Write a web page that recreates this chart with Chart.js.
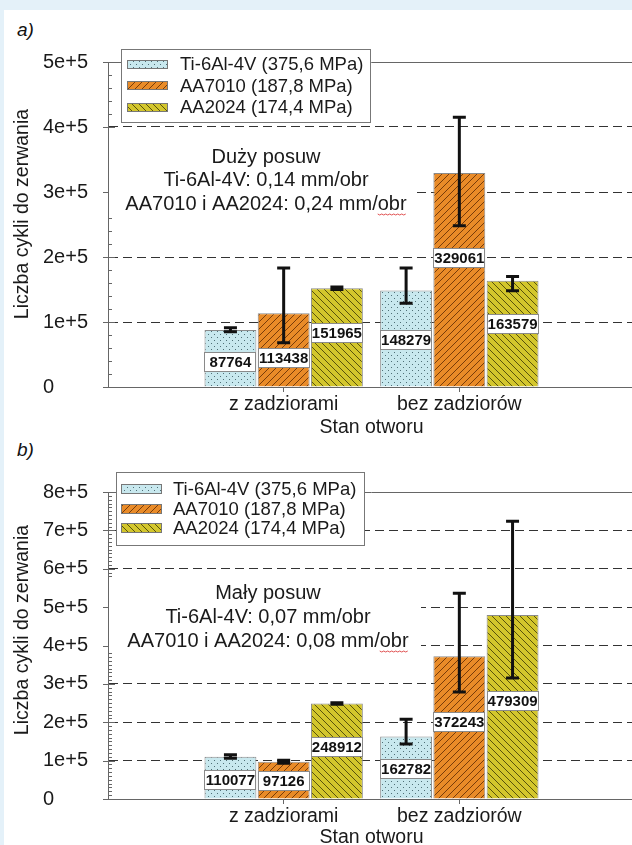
<!DOCTYPE html>
<html>
<head>
<meta charset="utf-8">
<script src="https://cdn.jsdelivr.net/npm/chart.js@4.4.0/dist/chart.umd.min.js"></script>
<style>
  html, body { margin: 0; padding: 0; }
  body { width: 632px; height: 845px; overflow: hidden; position: relative; background: #e4f1f9; font-family: "Liberation Sans", Arial, sans-serif; }
  #panel { position: absolute; left: 4px; top: 10px; right: 0; bottom: 0; background: #fff; }
  .wrap { position: absolute; left: 0; width: 636px; }
  #wa { top: 0; height: 445px; }
  #wb { top: 432px; height: 413px; }
  .tag { position: absolute; left: 17px; font-style: italic; font-size: 19px; color: #111; line-height: 20px; }
</style>
</head>
<body>
<div id="panel"></div>
<div class="tag" style="top:20px">a)</div>
<div class="tag" style="top:440px">b)</div>
<div class="wrap" id="wa"><canvas id="chartA" width="636" height="445"></canvas></div>
<div class="wrap" id="wb"><canvas id="chartB" width="636" height="413"></canvas></div>

<script>
// dane
const categories = ['z zadziorami', 'bez zadziorów'];
const seriesNames = ['Ti-6Al-4V (375,6 MPa)', 'AA7010 (187,8 MPa)', 'AA2024 (174,4 MPa)'];

// a) duzy posuw
const tiA = [87764, 148279];
const aa7010A = [113438, 329061];
const aa2024A = [151965, 163579];
const tiErrA = [[85000, 91000], [129000, 183000]];
const aa7010ErrA = [[68000, 183000], [248000, 415000]];
const aa2024ErrA = [[150000, 154000], [148000, 170000]];
const yTicksA = ['0', '1e+5', '2e+5', '3e+5', '4e+5', '5e+5'];
const noteA = ['Duży posuw', 'Ti-6Al-4V: 0,14 mm/obr', 'AA7010 i AA2024: 0,24 mm/obr'];

// b) maly posuw
const tiB = [110077, 162782];
const aa7010B = [97126, 372243];
const aa2024B = [248912, 479309];
const tiErrB = [[106000, 115000], [143000, 208000]];
const aa7010ErrB = [[93000, 101000], [279000, 536000]];
const aa2024ErrB = [[247000, 251000], [315000, 724000]];
const yTicksB = ['0', '1e+5', '2e+5', '3e+5', '4e+5', '5e+5', '6e+5', '7e+5', '8e+5'];
const noteB = ['Mały posuw', 'Ti-6Al-4V: 0,07 mm/obr', 'AA7010 i AA2024: 0,08 mm/obr'];

const yTitle = 'Liczba cykli do zerwania';
const xTitle = 'Stan otworu';

const FONT = '"Liberation Sans", Arial, sans-serif';

// wzory wypelnienia
function makePattern(kind) {
  const c = document.createElement('canvas');
  const s = kind === 'dots' ? 6 : 7;
  c.width = s; c.height = s;
  const g = c.getContext('2d');
  if (kind === 'dots') {
    g.fillStyle = '#c8e8ee'; g.fillRect(0, 0, s, s);
    g.fillStyle = '#4f6f76';
    g.fillRect(1, 1, 1, 1);
    g.fillRect(4, 4, 1, 1);
  } else {
    g.fillStyle = kind === 'fwd' ? '#e98b28' : '#d3c62c';
    g.fillRect(0, 0, s, s);
    g.strokeStyle = kind === 'fwd' ? '#6b3306' : '#4a4508';
    g.lineWidth = 0.9;
    g.beginPath();
    if (kind === 'fwd') {
      g.moveTo(0, s); g.lineTo(s, 0);
      g.moveTo(-1, 1); g.lineTo(1, -1);
      g.moveTo(s - 1, s + 1); g.lineTo(s + 1, s - 1);
    } else {
      g.moveTo(0, 0); g.lineTo(s, s);
      g.moveTo(-1, s - 1); g.lineTo(1, s + 1);
      g.moveTo(s - 1, -1); g.lineTo(s + 1, 1);
    }
    g.stroke();
  }
  return g.createPattern(c, 'repeat');
}
const fills = [makePattern('dots'), makePattern('fwd'), makePattern('back')];

function pad(arr) { return [null].concat(arr, [null]); }

// rysowanie dodatkow: legenda, opis, slupki bledow, etykiety wartosci
function makeDeco(cfg) {
  return {
    id: 'deco' + cfg.name,
    beforeDatasetsDraw(chart) {
      const { ctx, chartArea: ca } = chart;
      const y = chart.scales.y;
      ctx.save();
      // gorna ramka
      const yTop = Math.round(y.getPixelForValue(y.max)) + 0.5;
      ctx.strokeStyle = '#666'; ctx.lineWidth = 1;
      ctx.beginPath(); ctx.moveTo(ca.left, yTop); ctx.lineTo(ca.right, yTop); ctx.stroke();
      // znaczniki osi Y
      ctx.strokeStyle = '#666';
      for (let v = 0; v <= y.max + 1; v += cfg.minor) {
        const p = Math.round(y.getPixelForValue(v)) + 0.5;
        const major = Math.abs(v % 100000) < 1 || Math.abs(v % 100000 - 100000) < 1;
        ctx.beginPath();
        if (major) { ctx.moveTo(ca.left - 5, p); ctx.lineTo(ca.left + 7, p); }
        else { ctx.moveTo(ca.left, p); ctx.lineTo(ca.left + 4, p); }
        ctx.stroke();
      }
      // opis
      const n = cfg.note;
      ctx.fillStyle = '#fff';
      ctx.fillRect(ca.left + 1, ca.top + n.top, n.w, n.h);
      ctx.fillStyle = '#1a1a1a';
      ctx.font = '20px ' + FONT;
      ctx.textAlign = 'center'; ctx.textBaseline = 'middle';
      n.lines.forEach((t, i) => ctx.fillText(t, ca.left + n.cx, ca.top + n.y0 + i * n.step));
      // czerwone podkreslenie "obr"
      const last = n.lines[n.lines.length - 1];
      const full = ctx.measureText(last).width;
      const obr = ctx.measureText('obr').width;
      const xr = ca.left + n.cx + full / 2;
      const yl = ca.top + n.y0 + (n.lines.length - 1) * n.step + 10;
      ctx.strokeStyle = '#e05050'; ctx.lineWidth = 1;
      ctx.beginPath();
      for (let x = xr - obr, k = 0; x <= xr; x += 2, k++) {
        if (k === 0) ctx.moveTo(x, yl + (k % 2)); else ctx.lineTo(x, yl + (k % 2));
      }
      ctx.stroke();
      // legenda
      const L = cfg.legend;
      const lx = ca.left + L.dx, ly = ca.top + L.dy;
      ctx.fillStyle = '#fff';
      ctx.fillRect(lx, ly, L.w, L.h);
      ctx.strokeStyle = '#777'; ctx.lineWidth = 1;
      ctx.strokeRect(lx + 0.5, ly + 0.5, L.w, L.h);
      ctx.font = '18.5px ' + FONT;
      ctx.textAlign = 'left';
      chart.data.datasets.forEach((ds, i) => {
        const ry = ly + L.y0 + i * L.step;
        ctx.fillStyle = ds.backgroundColor;
        ctx.fillRect(lx + L.sx, Math.round(ry - L.sh / 2), 41, L.sh);
        ctx.strokeStyle = '#777';
        ctx.strokeRect(lx + L.sx + 0.5, Math.round(ry - L.sh / 2) + 0.5, 40, L.sh - 1);
        ctx.fillStyle = '#1a1a1a';
        ctx.fillText(ds.label, lx + L.tx, ry + 1);
      });
      // tytuly osi
      ctx.font = '19.5px ' + FONT;
      ctx.fillStyle = '#1a1a1a';
      ctx.textAlign = 'center';
      ctx.fillText(xTitle, (ca.left + ca.right) / 2, ca.bottom + cfg.xTitleDy);
      ctx.translate(23, ca.top + cfg.titleY);
      ctx.rotate(-Math.PI / 2);
      ctx.fillText(yTitle, 0, 0);
      ctx.restore();
    },
    afterDatasetsDraw(chart) {
      const { ctx } = chart;
      const y = chart.scales.y;
      ctx.save();
      chart.data.datasets.forEach((ds, i) => {
        const meta = chart.getDatasetMeta(i);
        meta.data.forEach((bar, j) => {
          const v = ds.data[j];
          if (v == null) return;
          const k = j - 1;
          // etykieta wartosci
          const w = bar.width;
          const x0 = bar.x - w / 2;
          const cy = Math.round(bar.base - cfg.labelFrac[i][k] * (bar.base - bar.y));
          ctx.fillStyle = '#fff';
          ctx.fillRect(x0, cy - 10, w, 20);
          ctx.strokeStyle = '#8a8a8a'; ctx.lineWidth = 1;
          ctx.strokeRect(Math.round(x0) + 0.5, cy - 9.5, Math.round(w) - 1, 19);
          ctx.fillStyle = '#111';
          ctx.font = 'bold 15px ' + FONT;
          ctx.textAlign = 'center'; ctx.textBaseline = 'middle';
          ctx.fillText(String(v), bar.x, cy + 1);
          // slupek bledu
          const e = cfg.errs[i][k];
          const pLo = y.getPixelForValue(e[0]);
          const pHi = y.getPixelForValue(e[1]);
          ctx.strokeStyle = '#111'; ctx.lineWidth = 3;
          ctx.beginPath();
          ctx.moveTo(bar.x, pLo); ctx.lineTo(bar.x, pHi);
          ctx.moveTo(bar.x - 6.5, pLo); ctx.lineTo(bar.x + 6.5, pLo);
          ctx.moveTo(bar.x - 6.5, pHi); ctx.lineTo(bar.x + 6.5, pHi);
          ctx.stroke();
        });
      });
      ctx.restore();
    }
  };
}

function buildChart(id, series, yMax, yTicks, padTop, xHeight, cfg) {
  const datasets = series.map((s, i) => ({
    label: seriesNames[i],
    data: pad(s),
    backgroundColor: fills[i],
    borderColor: '#8a8a8a',
    borderWidth: 1,
    categoryPercentage: 0.909,
    barPercentage: 0.975
  }));
  return new Chart(document.getElementById(id), {
    type: 'bar',
    data: { labels: pad(categories).map(l => l || ''), datasets },
    options: {
      responsive: false,
      animation: false,
      events: [],
      layout: { padding: { left: 43, top: padTop, right: 0, bottom: 0 } },
      plugins: { legend: { display: false }, tooltip: { enabled: false } },
      scales: {
        x: {
          type: 'category',
          offset: false,
          grid: {
            offset: false,
            drawOnChartArea: false,
            drawTicks: true,
            tickLength: 5,
            color: c => (c.index === 1 || c.index === 2) ? '#666' : 'rgba(0,0,0,0)'
          },
          border: { display: true, color: '#666', width: 1 },
          ticks: { color: '#1a1a1a', font: { size: 19.5, family: FONT }, padding: 1, autoSkip: false, maxRotation: 0 },
          afterFit: s => { s.height = xHeight; }
        },
        y: {
          min: 0,
          max: yMax,
          ticks: {
            stepSize: 100000,
            crossAlign: 'far',
            color: '#1a1a1a',
            font: { size: 20, family: FONT },
            callback: (v, i) => yTicks[i]
          },
          grid: {
            drawTicks: false,
            lineWidth: 1,
            color: c => (c.tick && c.tick.value > 0 && c.tick.value < yMax) ? '#333' : 'rgba(0,0,0,0)'
          },
          border: { display: true, color: '#666', width: 1, dash: [9, 5] },
          afterFit: s => { s.width = 65; }
        }
      }
    },
    plugins: [makeDeco(cfg)]
  });
}

buildChart('chartA', [tiA, aa7010A, aa2024A], 500000, yTicksA, 62, 58, {
  name: 'A',
  minor: 20000,
  errs: [tiErrA, aa7010ErrA, aa2024ErrA],
  labelFrac: [[0.44, 0.48], [0.39, 0.60], [0.54, 0.59]],
  note: { lines: noteA, cx: 158, top: 78, w: 304, h: 78, y0: 95, step: 23.5 },
  legend: { dx: 13, dy: -13, w: 249, h: 73, y0: 15, step: 21.5, sx: 6, sh: 9, tx: 59 },
  titleY: 152,
  xTitleDy: 41
});

buildChart('chartB', [tiB, aa7010B, aa2024B], 800000, yTicksB, 60, 46, {
  name: 'B',
  minor: 10000,
  errs: [tiErrB, aa7010ErrB, aa2024ErrB],
  labelFrac: [[0.44, 0.48], [0.48, 0.54], [0.54, 0.53]],
  note: { lines: noteB, cx: 160, top: 85, w: 312, h: 75, y0: 101, step: 24 },
  legend: { dx: 8, dy: -20, w: 248, h: 73, y0: 17, step: 19.5, sx: 5, sh: 10, tx: 57 },
  titleY: 138,
  xTitleDy: 39
});
</script>
</body>
</html>
